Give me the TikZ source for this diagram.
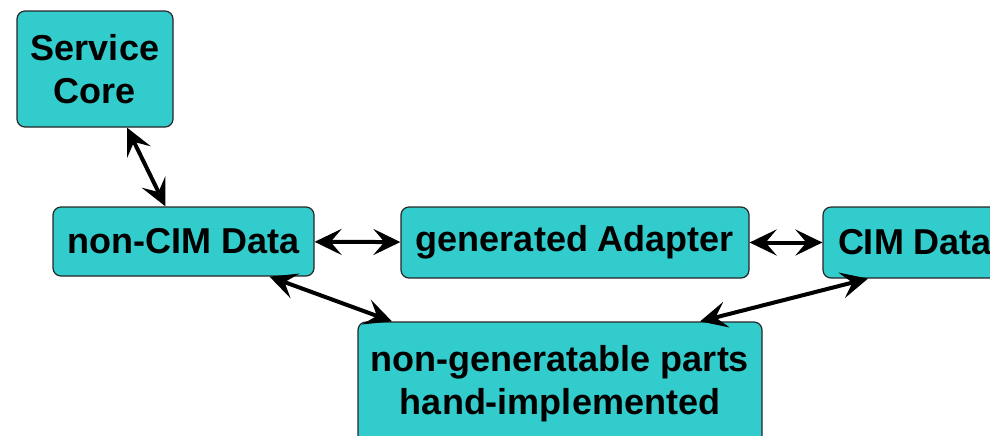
\documentclass[tikz,border=0pt]{standalone}
\usepackage{fontspec}
\setmainfont{Liberation Sans}
\usetikzlibrary{arrows.meta}
\definecolor{turq}{RGB}{51,204,204}

\begin{document}
\begin{tikzpicture}[x = 0.5pt, y = -0.5pt,
	box/.style = {draw = black!85, fill = turq, line width = 0.6pt, rounded corners = 4pt,
		align = center, inner sep = 0pt, font = \fontsize{18}{21.5}\selectfont\bfseries},
	link/.style = {{Stealth[length=13.5pt,width=13pt,inset=5.5pt]}-{Stealth[length=13.5pt,width=13pt,inset=5.5pt]}, line width = 2pt}]
	\clip (0,0) rectangle (990,435);
	\useasboundingbox (0,0) rectangle (990,435);
	\node [box, minimum width = 78pt, minimum height = 58pt] (core) at (95,69) {Service\\Core};
	\node [box, minimum width = 130.5pt, minimum height = 34.5pt] (noncim) at (183.5,241.5) {non-CIM Data};
	\node [box, minimum width = 174pt, minimum height = 35.5pt] (adapter) at (575,242.5) {generated Adapter};
	\node [box, minimum width = 92pt, minimum height = 35.5pt] (cim) at (915,242.5) {CIM Data};
	\node [box, minimum width = 202pt, minimum height = 62pt] (hand) at (560,384) {non-generatable parts\\hand-implemented};
	\draw [link] ([xshift=16pt]core.south) -- ([xshift=-9pt]noncim.north);
	\draw [link] (noncim) -- (adapter);
	\draw [link] (adapter) -- (cim);
	\draw [link] ([xshift=43pt]noncim.south) -- ([xshift=-84pt]hand.north);
	\draw [link] ([xshift=-23.5pt]cim.south) -- ([xshift=70pt]hand.north);
\end{tikzpicture}
\end{document}
